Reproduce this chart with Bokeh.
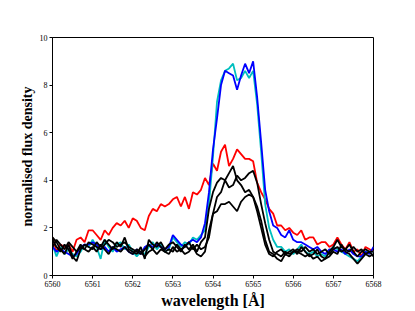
import numpy as np
from bokeh.plotting import figure
from bokeh.models import Range1d, FixedTicker
from bokeh.embed import file_html
from bokeh.resources import INLINE

# wavelength grid (Angstrom), 0.1 A sampling
wavelength = [round(6560.0 + 0.1 * i, 1) for i in range(81)]

red = [1.6, 1.0, 1.3, 1.2, 1.3, 1.0, 1.5, 1.6, 1.4, 1.9,
       1.9, 1.7, 1.5, 1.9, 1.7, 2.0, 2.2, 2.1, 2.3, 2.0,
       2.4, 2.3, 2.0, 1.9, 2.5, 2.8, 2.7, 3.0, 2.9, 3.0,
       3.2, 3.3, 2.9, 3.3, 2.8, 3.5, 3.4, 3.6, 4.1, 3.8,
       4.7, 4.4, 5.2, 5.5, 4.6, 4.9, 5.3, 5.1, 4.9, 4.9,
       4.8, 3.9, 3.5, 3.2, 2.8, 2.6, 2.1, 2.1, 1.9, 2.0,
       1.8, 1.7, 1.9, 1.5, 1.6, 1.6, 1.3, 1.4, 1.4, 1.2,
       1.3, 1.6, 1.3, 1.1, 1.4, 1.0, 1.1, 0.8, 1.2, 1.1, 1.0]

blue = [1.2, 1.0, 1.1, 1.0, 0.9, 0.8, 0.9, 1.2, 1.3, 1.3,
        1.4, 1.3, 1.1, 1.2, 1.0, 1.2, 1.0, 1.1, 1.2, 1.0,
        0.9, 1.1, 0.9, 1.2, 1.3, 1.2, 1.3, 1.2, 1.1, 1.2,
        1.7, 1.5, 1.3, 1.2, 1.4, 1.5, 1.4, 1.6, 2.2, 3.5,
        5.3, 6.6, 8.0, 8.6, 8.5, 8.4, 7.8, 8.4, 8.9, 8.5,
        9.0, 7.5, 5.6, 3.6, 2.7, 2.1, 2.0, 1.7, 1.6, 1.9,
        1.5, 1.4, 1.4, 1.3, 1.2, 1.1, 1.2, 1.0, 0.9, 1.1,
        1.1, 1.0, 1.1, 0.9, 1.1, 0.9, 0.8, 0.8, 1.0, 0.9, 1.2]

cyan = [1.3, 0.8, 1.2, 0.9, 1.1, 0.9, 0.8, 1.0, 1.3, 1.2,
        1.5, 1.2, 0.7, 1.5, 1.2, 1.0, 1.3, 1.4, 1.1, 1.3,
        1.0, 0.8, 1.0, 0.9, 1.2, 1.4, 1.1, 1.3, 1.0, 1.1,
        1.6, 1.4, 1.2, 1.4, 1.3, 1.6, 1.5, 1.7, 1.9, 3.0,
        5.0, 7.3, 8.2, 8.6, 8.7, 8.9, 8.2, 8.3, 8.6, 8.3,
        8.6, 7.2, 5.2, 3.0, 2.0, 1.5, 1.2, 1.2, 1.0, 1.1,
        0.9, 1.1, 1.3, 1.0, 0.9, 1.0, 0.8, 0.9, 0.8, 1.0,
        1.2, 1.1, 1.0, 0.9, 0.8, 0.7, 0.6, 0.8, 1.0, 1.0, 1.0]

black1 = [1.5, 1.2, 1.0, 1.3, 1.1, 0.7, 1.0, 1.2, 1.1, 1.0,
          1.2, 1.0, 1.3, 1.1, 0.9, 1.2, 1.1, 1.0, 1.2, 1.0,
          0.9, 1.1, 1.0, 0.8, 1.0, 1.1, 0.9, 1.1, 1.0, 0.9,
          1.2, 1.0, 1.1, 0.9, 1.0, 1.2, 0.9, 0.8, 1.0, 1.9,
          2.6, 2.7, 3.0, 3.0, 3.1, 2.9, 2.7, 3.1, 3.3, 3.4,
          3.3, 2.9, 2.3, 1.5, 1.0, 0.9, 0.7, 0.6, 0.9, 0.8,
          1.0, 1.0, 0.9, 0.8, 0.9, 0.7, 0.8, 0.6, 0.7, 0.8,
          1.0, 0.9, 1.3, 1.0, 0.9, 0.7, 0.5, 0.7, 0.9, 0.8, 0.9]

black2 = [1.6, 1.4, 1.1, 0.9, 1.3, 0.8, 0.6, 1.1, 1.3, 1.2,
          1.1, 1.4, 1.2, 1.5, 1.3, 1.1, 1.4, 1.2, 1.6, 1.1,
          1.0, 0.9, 1.2, 0.7, 1.5, 1.3, 1.2, 1.4, 1.1, 1.3,
          1.4, 1.2, 1.0, 1.3, 1.1, 1.3, 1.0, 1.4, 1.6, 2.8,
          3.5, 3.9, 4.1, 4.0, 4.3, 4.6, 4.0, 3.8, 3.5, 3.6,
          3.3, 2.7, 2.0, 1.3, 0.9, 0.8, 1.0, 1.1, 0.9, 1.0,
          1.1, 0.9, 1.2, 1.0, 0.8, 0.9, 1.1, 0.8, 0.7, 1.0,
          1.2, 1.5, 1.2, 1.1, 1.3, 1.0, 0.8, 1.0, 1.1, 1.0, 0.8]

black3 = [1.2, 1.5, 1.3, 1.1, 1.4, 1.2, 1.0, 1.3, 1.1, 1.4,
          1.3, 1.2, 1.1, 1.3, 1.5, 1.4, 1.2, 1.3, 1.4, 1.2,
          1.1, 1.0, 0.9, 1.1, 1.3, 1.1, 1.4, 1.2, 1.0, 1.1,
          1.0, 1.3, 1.1, 1.2, 1.4, 1.1, 1.3, 1.1, 1.2, 1.6,
          2.6, 3.3, 3.5, 4.0, 3.7, 3.8, 4.2, 4.0, 4.1, 4.3,
          4.4, 3.9, 3.0, 2.2, 1.5, 1.0, 0.9, 0.8, 1.0, 0.9,
          1.0, 1.1, 1.0, 1.2, 1.0, 1.1, 0.9, 1.0, 1.1, 0.9,
          1.1, 1.2, 1.0, 1.1, 1.0, 1.2, 1.0, 1.1, 0.9, 1.0, 1.0]

x_ticks = [6560, 6561, 6562, 6563, 6564, 6565, 6566, 6567, 6568]
y_ticks = [0, 2, 4, 6, 8, 10]

p = figure(width=415, height=311, output_backend="svg", toolbar_location=None,
           x_range=Range1d(6560, 6568), y_range=Range1d(0, 10),
           min_border_left=52, min_border_top=37, min_border_right=42,
           min_border_bottom=35)

series = [(red, "#ff0000"), (cyan, "#00bfbf"), (blue, "#0000ff"),
          (black1, "#000000"), (black2, "#000000"), (black3, "#000000")]
for ys, col in series:
    p.line(wavelength, ys, line_color=col, line_width=1.8)

p.xgrid.visible = False
p.ygrid.visible = False
p.outline_line_color = "#000000"
p.outline_line_width = 1

for ax in (p.xaxis[0], p.yaxis[0]):
    ax.minor_tick_line_color = None
    ax.major_tick_in = 0
    ax.major_tick_out = 3
    ax.major_label_text_font = "Liberation Serif"
    ax.major_label_text_font_size = "8px"
    ax.major_label_text_color = "#000000"
    ax.axis_label_text_font = "Liberation Serif"
    ax.axis_label_text_font_style = "bold"
    ax.axis_label_text_color = "#000000"
    ax.major_label_standoff = 2
    ax.axis_label_standoff = 2

p.xaxis.axis_label_text_font_size = "16px"
p.yaxis.axis_label_text_font_size = "14px"
p.xaxis.ticker = FixedTicker(ticks=x_ticks)
p.yaxis.ticker = FixedTicker(ticks=y_ticks)
p.xaxis.axis_label = "wavelength [Å]"
p.yaxis.axis_label = "normalised flux density"

open("out.html", "w").write(file_html(p, INLINE))
